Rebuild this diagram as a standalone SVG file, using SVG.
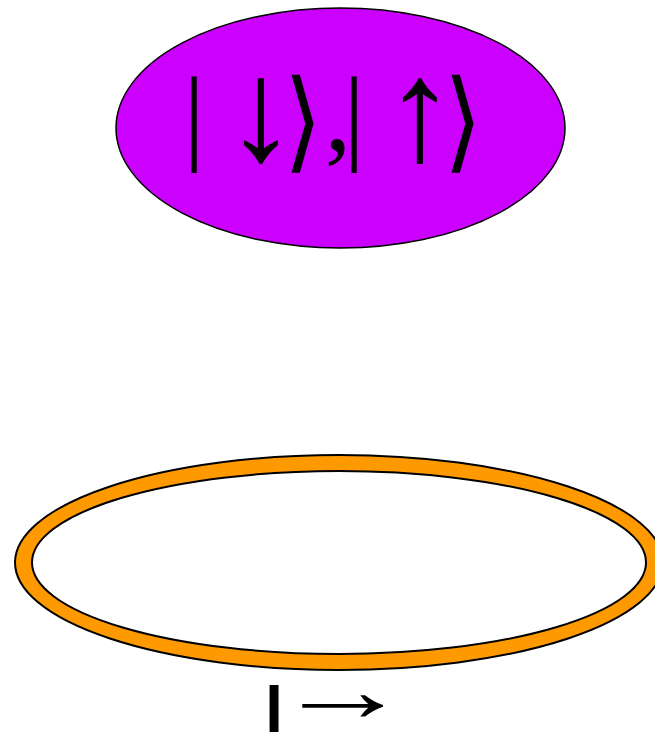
<svg xmlns="http://www.w3.org/2000/svg" width="655" height="732" viewBox="0 0 655 732">
<style>
.ket{font-family:"Liberation Serif","DejaVu Serif",serif;font-size:106px;fill:#000;text-anchor:middle}
.arr{font-family:"Liberation Serif","DejaVu Serif",serif;font-size:145px;fill:#000;text-anchor:middle}
.ang{font-family:"DejaVu Sans ExtraLight","DejaVu Sans Light","DejaVu Sans",sans-serif;font-size:100px;fill:#000;text-anchor:middle}
.lbl{font-family:"Liberation Sans","DejaVu Sans",sans-serif;fill:#000;text-anchor:middle}
</style>
<rect width="655" height="732" fill="#fff"/>
<g id="spin-states">
<ellipse cx="340.5" cy="128" rx="224.5" ry="120" fill="#CC00FF" stroke="#000" stroke-width="1.5"/>
<text class="ket" x="194" y="150">|</text>
<text class="arr" x="261" y="160">↓</text>
<text class="ang" transform="translate(303,158) scale(1,1.1)" x="0" y="0">⟩</text>
<text class="ket" x="338" y="150">,</text>
<text class="ket" x="354" y="150">|</text>
<text class="arr" x="420" y="160">↑</text>
<text class="ang" transform="translate(463,158) scale(1,1.1)" x="0" y="0">⟩</text>
</g>
<g id="ring">
<ellipse cx="339" cy="562.5" rx="324" ry="107.5" fill="#FF9900" stroke="#000" stroke-width="2"/>
<ellipse cx="339" cy="562.5" rx="307" ry="91.5" fill="#fff" stroke="#000" stroke-width="2"/>
</g>
<g id="ring-label">
<text class="lbl" x="274" y="736" font-size="70" font-weight="bold">|</text>
<text class="lbl" transform="translate(343,721) scale(1.95,1.3)" x="0" y="0" font-size="70">→</text>
</g>
<g id="connectors"></g>
</svg>
